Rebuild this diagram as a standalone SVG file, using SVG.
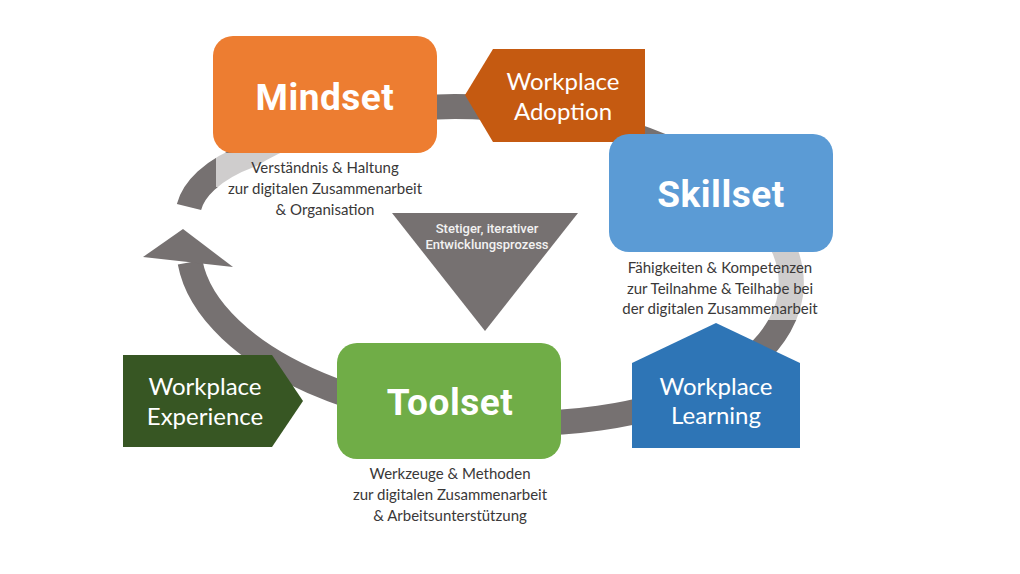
<svg xmlns="http://www.w3.org/2000/svg" width="1020" height="574" viewBox="0 0 1020 574">
<style>
.band{fill:none;stroke:#767171;stroke-width:25;stroke-linecap:butt}
.veil{fill:#ffffff;fill-opacity:0.65}
.title{font-family:Roboto,"Liberation Sans",sans-serif;font-weight:700;font-size:37px;fill:#ffffff;text-anchor:middle;letter-spacing:0.5px}
.wp{font-family:Lato,"Liberation Sans",sans-serif;font-size:24px;fill:#ffffff;text-anchor:middle}
.desc{font-family:Lato,"Liberation Sans",sans-serif;font-size:15px;fill:#3a3838;text-anchor:middle}
.tri{font-family:Roboto,"Liberation Sans",sans-serif;font-weight:500;font-size:13px;fill:#f2f2f2;text-anchor:middle}
</style>
<rect width="1020" height="574" fill="#ffffff"/>
<g id="connectors">
<path class="band" d="M189 207 C193 191 210 170 250.8 154.9 A302 157 4.7 1 1 190.1 262.3"/>
<polygon points="143,257 183,229 233,267" fill="#767171"/>
<rect class="veil" x="216" y="153" width="210" height="34"/>
<rect class="veil" x="612" y="252" width="200" height="68"/>
</g>
<g id="mindset">
<rect x="213" y="36" width="224" height="117" rx="20" fill="#ED7D31"/>
<text class="title" x="325" y="110">Mindset</text>
<text class="desc" x="325" y="173">Verständnis &amp; Haltung</text>
<text class="desc" x="325" y="194">zur digitalen Zusammenarbeit</text>
<text class="desc" x="325" y="215">&amp; Organisation</text>
</g>
<g id="workplace-adoption">
<polygon points="465,95 493,49 645,49 645,142 493,142" fill="#C55A11"/>
<text class="wp" x="563" y="90">Workplace</text>
<text class="wp" x="563" y="120">Adoption</text>
</g>
<g id="skillset">
<rect x="609" y="134" width="224" height="118" rx="20" fill="#5B9BD5"/>
<text class="title" x="721" y="207">Skillset</text>
<text class="desc" x="720" y="273">Fähigkeiten &amp; Kompetenzen</text>
<text class="desc" x="720" y="294">zur Teilnahme &amp; Teilhabe bei</text>
<text class="desc" x="720" y="314">der digitalen Zusammenarbeit</text>
</g>
<g id="workplace-learning">
<polygon points="632,363 716,323 800,363 800,448 632,448" fill="#2E75B6"/>
<text class="wp" x="716" y="395">Workplace</text>
<text class="wp" x="716" y="424">Learning</text>
</g>
<g id="toolset">
<rect x="337" y="343" width="224" height="116" rx="20" fill="#70AD47"/>
<text class="title" x="450" y="415">Toolset</text>
<text class="desc" x="450" y="479">Werkzeuge &amp; Methoden</text>
<text class="desc" x="450" y="500">zur digitalen Zusammenarbeit</text>
<text class="desc" x="450" y="521">&amp; Arbeitsunterstützung</text>
</g>
<g id="workplace-experience">
<polygon points="123,355 272,355 303,401 272,447 123,447" fill="#375623"/>
<text class="wp" x="205" y="395">Workplace</text>
<text class="wp" x="205" y="425">Experience</text>
</g>
<g id="process">
<polygon points="392,213 578,213 485,331" fill="#767171"/>
<text class="tri" x="487" y="233">Stetiger, iterativer</text>
<text class="tri" x="487" y="249">Entwicklungsprozess</text>
</g>
</svg>
